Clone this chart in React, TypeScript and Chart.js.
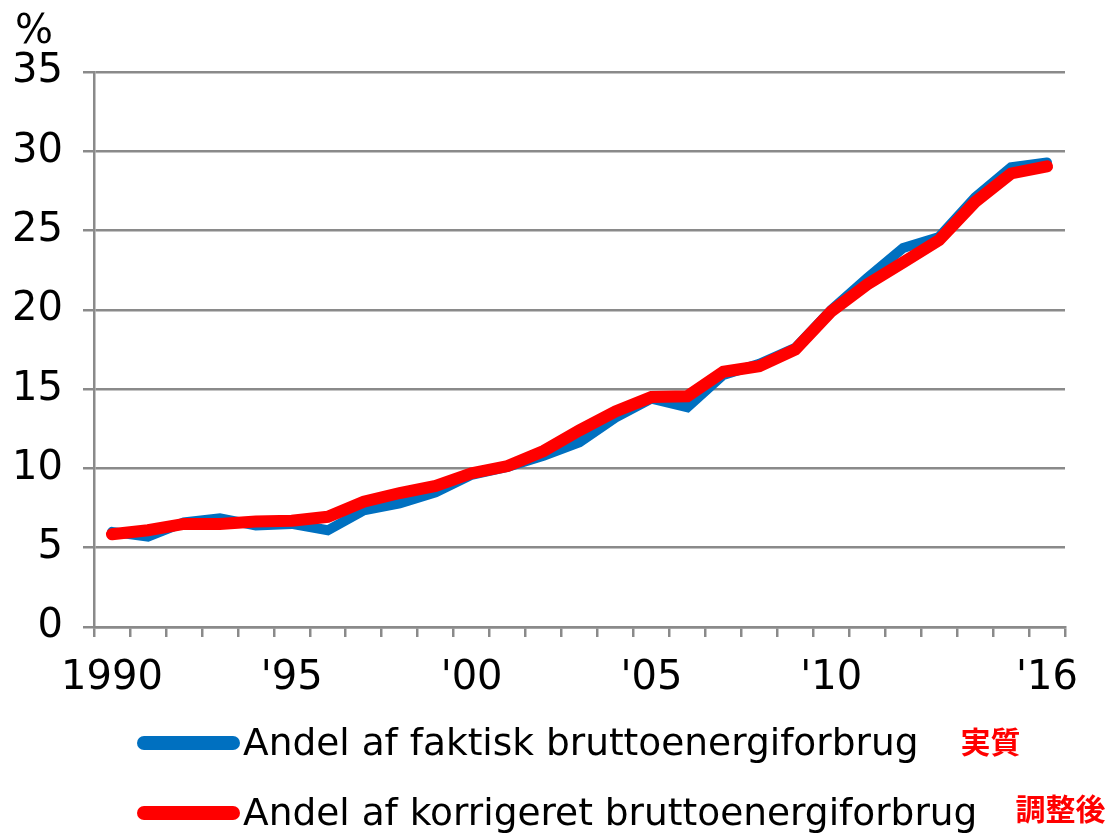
import React, { useEffect, useRef } from 'react';
import { Chart, registerables } from 'chart.js';

Chart.register(...registerables);

const years = [
  '1990', '1991', '1992', '1993', '1994', '1995', '1996', '1997', '1998', '1999',
  '2000', '2001', '2002', '2003', '2004', '2005', '2006', '2007', '2008', '2009',
  '2010', '2011', '2012', '2013', '2014', '2015', '2016',
];
const tickLabels = [
  '1990', '', '', '', '', "'95", '', '', '', '',
  "'00", '', '', '', '', "'05", '', '', '', '',
  "'10", '', '', '', '', '', "'16",
];
const actualShare = [
  6.0, 5.7, 6.6, 6.85, 6.4, 6.5, 6.1, 7.35, 7.8, 8.5,
  9.6, 10.1, 10.8, 11.65, 13.2, 14.4, 13.85, 15.9, 16.6, 17.6,
  20.0, 22.0, 23.9, 24.6, 27.1, 29.0, 29.3,
];
const correctedShare = [
  5.85, 6.1, 6.5, 6.5, 6.65, 6.7, 6.95, 7.9, 8.45, 8.9,
  9.7, 10.15, 11.1, 12.4, 13.6, 14.5, 14.55, 16.1, 16.45, 17.5,
  19.9, 21.6, 23.0, 24.4, 26.8, 28.6, 29.05,
];
const seriesLabels = [
  'Andel af faktisk bruttoenergiforbrug',
  'Andel af korrigeret bruttoenergiforbrug',
];
const seriesNotes = ['実質', '調整後'];
const unitLabel = '%';
const yMin = 0;
const yMax = 35;
const yStep = 5;

const BLUE = '#0070C0';
const RED = '#FF0000';
const GRID = '#8a8a8a';
const TICK_FONT = 40;
const LEGEND_FONT = 37.5;

const overlayPlugin = {
  id: 'overlay',
  afterDraw(chart: any) {
    const ctx = chart.ctx as CanvasRenderingContext2D;
    const { top, bottom } = chart.chartArea;
    ctx.save();
    // unit label
    ctx.fillStyle = '#000';
    ctx.font = `${TICK_FONT}px "DejaVu Sans"`;
    ctx.textAlign = 'left';
    ctx.textBaseline = 'middle';
    ctx.fillText(unitLabel, 15, top - 39);

    // legend
    const noteDy = [-1, -4];
    const noteGap = [42, 38];
    chart.data.datasets.forEach((ds: any, i: number) => {
      const y = bottom + 116 + i * 70;
      ctx.beginPath();
      ctx.lineCap = 'round';
      ctx.lineWidth = 14;
      ctx.strokeStyle = ds.borderColor;
      ctx.moveTo(144, y);
      ctx.lineTo(233, y);
      ctx.stroke();
      ctx.font = `${LEGEND_FONT}px "DejaVu Sans"`;
      ctx.fillStyle = '#000';
      ctx.textAlign = 'left';
      ctx.textBaseline = 'middle';
      ctx.fillText(ds.label, 243, y + 2);
      const w = ctx.measureText(ds.label).width;
      ctx.font = `bold 30px "Noto Sans CJK JP"`;
      ctx.fillStyle = RED;
      ctx.fillText(seriesNotes[i], 243 + w + noteGap[i], y + noteDy[i]);
    });
    ctx.restore();
  },
};

export default function App() {
  const ref = useRef<HTMLCanvasElement | null>(null);

  useEffect(() => {
    document.body.style.margin = '0';
    const canvas = ref.current;
    if (!canvas) return;
    const chart = new Chart(canvas, {
      type: 'line',
      data: {
        labels: tickLabels,
        datasets: [
          {
            label: seriesLabels[0],
            data: actualShare,
            borderColor: BLUE,
            backgroundColor: BLUE,
            borderWidth: 10,
            pointRadius: 0,
            borderCapStyle: 'round',
            tension: 0,
            order: 2,
          },
          {
            label: seriesLabels[1],
            data: correctedShare,
            borderColor: RED,
            backgroundColor: RED,
            borderWidth: 12,
            pointRadius: 0,
            borderCapStyle: 'round',
            tension: 0,
            order: 1,
          },
        ],
      },
      options: {
        responsive: false,
        animation: false,
        devicePixelRatio: 1,
        layout: { padding: { left: 0, right: 48, top: 72, bottom: 0 } },
        plugins: {
          legend: { display: false },
          tooltip: { enabled: false },
          title: { display: false },
        },
        scales: {
          x: {
            type: 'category',
            offset: true,
            grid: {
              display: true,
              drawOnChartArea: false,
              drawTicks: true,
              tickLength: 10,
              offset: true,
              color: GRID,
              lineWidth: 2.5,
            },
            border: { display: true, color: GRID, width: 2.5 },
            ticks: {
              autoSkip: false,
              maxRotation: 0,
              minRotation: 0,
              padding: 18,
              color: '#000',
              font: { family: '"DejaVu Sans"', size: TICK_FONT },
            },
            afterFit(scale: any) {
              scale.height = 837 - 72 - 555;
            },
          },
          y: {
            min: yMin,
            max: yMax,
            grid: {
              color: GRID,
              lineWidth: 2.5,
              drawTicks: true,
              tickLength: 11,
            },
            border: { display: true, color: GRID, width: 2.5 },
            ticks: {
              stepSize: yStep,
              padding: 20,
              color: '#000',
              font: { family: '"DejaVu Sans"', size: TICK_FONT },
            },
            afterFit(scale: any) {
              scale.width = 94;
            },
          },
        },
      },
      plugins: [overlayPlugin],
    });
    return () => chart.destroy();
  }, []);

  return <canvas ref={ref} width={1113} height={837} style={{ display: 'block' }} />;
}
